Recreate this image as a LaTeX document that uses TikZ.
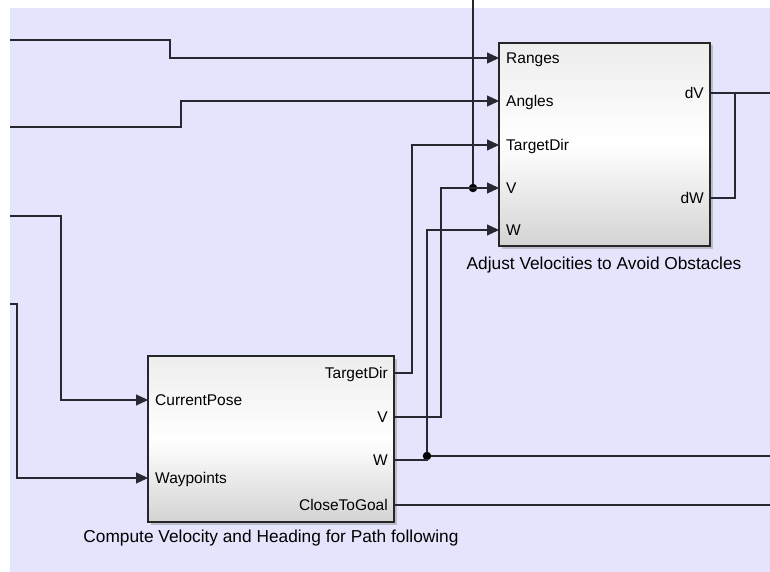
\documentclass[tikz,border=0pt]{standalone}
\usepackage{fontspec}
\setmainfont{Liberation Sans}
\usetikzlibrary{arrows.meta,shadows}
\definecolor{canvas}{RGB}{228,228,252}
\definecolor{wirecol}{RGB}{40,40,50}
\newcommand\portfont{\fontsize{15.5}{18}\selectfont}
\newcommand\capfont{\fontsize{17.3}{20}\selectfont}
\begin{document}
\begin{tikzpicture}[x=1pt,y=-1pt,
  wire/.style={draw=wirecol,line width=1.1pt},
  sig/.style={wire,-{Triangle[length=12pt,width=11pt]}},
  block/.style={draw=black!85,line width=1.2pt,inner sep=0pt,
    top color=black!7,bottom color=black!17,middle color=white,
    drop shadow={shadow xshift=2.5pt,shadow yshift=-2.5pt,opacity=0.4}},
  inport/.style={anchor=base west,inner sep=0pt,font=\portfont},
  outport/.style={anchor=base east,inner sep=0pt,font=\portfont},
  caption/.style={anchor=base,inner sep=0pt,font=\capfont},
  junction/.style={circle,fill=black,inner sep=0pt,minimum size=8.5pt}]
% canvas
\path[use as bounding box] (0,0) rectangle (770,572);
\fill[white] (0,0) rectangle (770,572);
\fill[canvas] (10,8) rectangle (770,572);

% blocks
\node[block,minimum width=211pt,minimum height=203pt] (avoid) at (604.5,144.5) {};
\node[block,minimum width=246pt,minimum height=166pt] (comp) at (271,439) {};

% port coordinates: avoid block
\coordinate (aRanges) at (499,58);
\coordinate (aAngles) at (499,101);
\coordinate (aTarget) at (499,145);
\coordinate (aV) at (499,188);
\coordinate (aW) at (499,230);
\coordinate (adV) at (710,93);
\coordinate (adW) at (710,198);
% port coordinates: compute block
\coordinate (cPose) at (148,400);
\coordinate (cWay) at (148,478);
\coordinate (cTarget) at (394,373);
\coordinate (cV) at (394,417);
\coordinate (cW) at (394,460);
\coordinate (cGoal) at (394,505);
% free ends
\coordinate (inR) at (10,40);
\coordinate (inA) at (10,127);
\coordinate (inP) at (10,216);
\coordinate (inW) at (10,304);
\coordinate (topV) at (473,0);
\coordinate (outdV) at (770,93);
\coordinate (outW) at (770,456);
\coordinate (outGoal) at (770,505);

% junctions
\node[junction] (jV) at (473,188) {};
\node[junction] (jW) at (427,456) {};

% port labels
\node[inport] at (506,63.5) {Ranges};
\node[inport] at (506,106.5) {Angles};
\node[inport] at (506,150.5) {TargetDir};
\node[inport] at (506,193.5) {V};
\node[inport] at (506,235.5) {W};
\node[outport] at (704,98.5) {dV};
\node[outport] at (704,203.5) {dW};
\node[inport] at (155,405.5) {CurrentPose};
\node[inport] at (155,483.5) {Waypoints};
\node[outport] at (388,378.5) {TargetDir};
\node[outport] at (388,422.5) {V};
\node[outport] at (388,465.5) {W};
\node[outport] at (388,510.5) {CloseToGoal};

% captions
\node[caption] (capA) at (604,269) {Adjust Velocities to Avoid Obstacles};
\node[caption] (capC) at (271,542.5) {Compute Velocity and Heading for Path following};

% connectors
\draw[sig] (inR) -- (170,40) -- (170,58) -- (aRanges);
\draw[sig] (inA) -- (181,127) -- (181,101) -- (aAngles);
\draw[sig] (inP) -- (61,216) -- (61,400) -- (cPose);
\draw[sig] (inW) -- (17,304) -- (17,478) -- (cWay);
\draw[sig] (cTarget) -- (412,373) -- (412,145) -- (aTarget);
\draw[sig] (cV) -- (441,417) -- (441,188) -- (aV);
\draw[wire] (topV) -- (jV);
\draw[sig] (jW) -- (427,230) -- (aW);
\draw[wire] (cW) -- (427,460) -- (jW);
\draw[wire] (jW) -- (outW);
\draw[wire] (cGoal) -- (outGoal);
\draw[wire] (adV) -- (outdV);
\draw[wire] (adW) -- (735,198) -- (735,93);
\end{tikzpicture}
\end{document}
